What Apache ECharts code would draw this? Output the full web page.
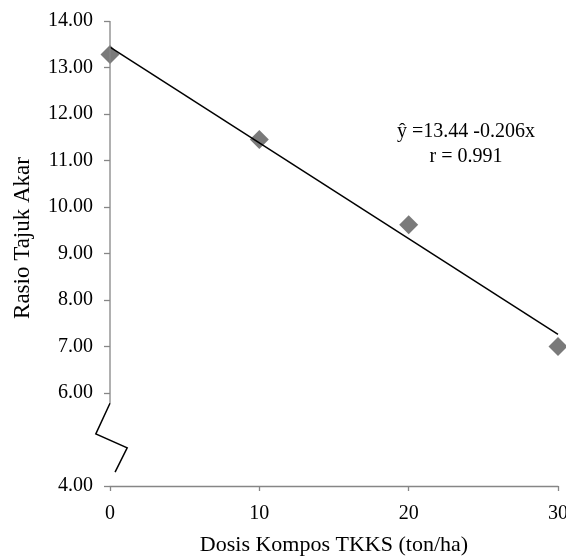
<!DOCTYPE html>
<html><head><meta charset="utf-8">
<script src="https://cdn.jsdelivr.net/npm/echarts@6/dist/echarts.min.js"></script>
<style>html,body{margin:0;padding:0;background:#fff}#c{width:566px;height:560px}</style>
</head><body><div id="c"></div>
<script>
const doses = [0, 10, 20, 30];
const ratio = [13.28, 11.45, 9.62, 7.00];
const intercept = 13.44;
const slope = -0.206;
const yTicks = [4, 6, 7, 8, 9, 10, 11, 12, 13, 14];
const xTicks = [0, 10, 20, 30];
const breakTop = 5.78;
const breakZig = [[0, 5.78], [-0.95, 5.12], [1.15, 4.82], [0.34, 4.30]];

const font = 'Liberation Serif, Times New Roman, serif';
const axisGray = '#868686';
const chart = echarts.init(document.getElementById('c'), null, {renderer: 'canvas'});
chart.setOption({
  animation: false,
  grid: {left: 110, top: 21, right: 8, bottom: 74, containLabel: false, outerBoundsMode: 'none'},
  xAxis: {
    type: 'value', min: 0, max: 30, interval: 10,
    name: 'Dosis Kompos TKKS (ton/ha)', nameLocation: 'middle', nameGap: 48,
    nameTextStyle: {fontFamily: font, fontSize: 22, color: '#000'},
    axisLine: {lineStyle: {color: axisGray, width: 1.3}},
    axisTick: {inside: false, length: 5, customValues: xTicks, lineStyle: {color: axisGray, width: 1.3}},
    axisLabel: {fontFamily: font, fontSize: 20, color: '#000', margin: 18, customValues: xTicks, hideOverlap: false},
    splitLine: {show: false}
  },
  yAxis: {
    type: 'value', min: 4, max: 14, interval: 1,
    axisLine: {show: false},
    axisTick: {show: true, length: 6, customValues: yTicks, lineStyle: {color: axisGray, width: 1.3}},
    axisLabel: {fontFamily: font, fontSize: 20, color: '#000', margin: 17, customValues: yTicks,
      formatter: v => v.toFixed(2)},
    splitLine: {show: false}
  },
  series: [
    {type: 'line', data: [[doses[0], intercept + slope * doses[0]], [doses[3], intercept + slope * doses[3]]],
      symbol: 'none', clip: false, lineStyle: {color: '#000', width: 1.5}, z: 3},
    {type: 'scatter', data: doses.map((d, i) => [d, ratio[i]]), symbol: 'diamond', symbolSize: 19,
      itemStyle: {color: '#595959'}, clip: false, z: 2}
  ]
});
const px = p => chart.convertToPixel({gridIndex: 0}, p);
chart.setOption({
  graphic: [
    {type: 'polyline', z: 10, shape: {points: [px([0, 14]), px([0, breakTop])]},
      style: {stroke: axisGray, lineWidth: 1.3, fill: null}},
    {type: 'polyline', z: 10, shape: {points: breakZig.map(px)},
      style: {stroke: '#000', lineWidth: 1.5, fill: null}},
    {type: 'text', x: 23, y: 238, rotation: Math.PI / 2,
      style: {text: 'Rasio Tajuk Akar', font: '23px ' + font, fill: '#000', align: 'center', verticalAlign: 'middle'}},
    {type: 'text', x: 466, y: 122, style: {text: 'ŷ =13.44 -0.206x', font: '20px ' + font, fill: '#000', align: 'center'}},
    {type: 'text', x: 466, y: 147, style: {text: 'r = 0.991', font: '20px ' + font, fill: '#000', align: 'center'}}
  ]
});
</script></body></html>
